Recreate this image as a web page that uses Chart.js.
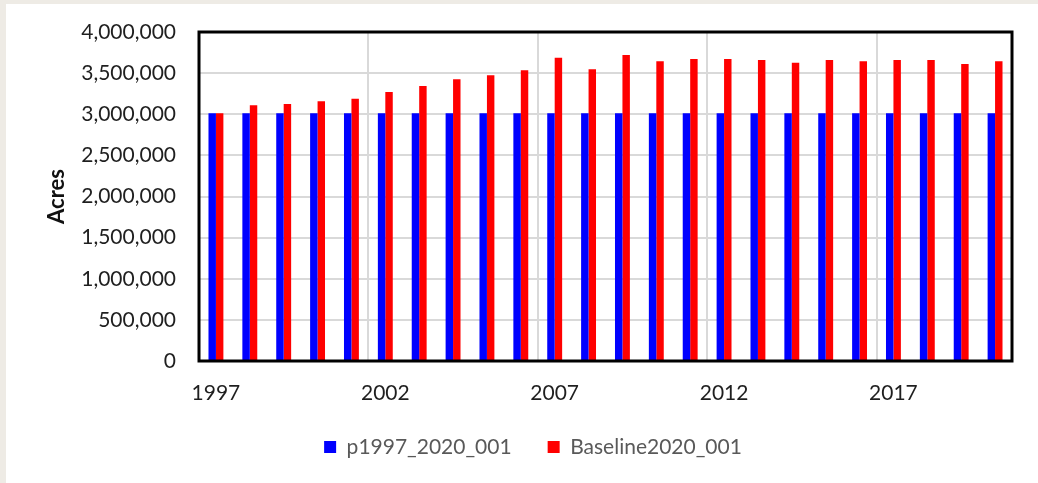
<!DOCTYPE html>
<html>
<head>
<meta charset="utf-8">
<script src="https://cdn.jsdelivr.net/npm/chart.js@4.4.0/dist/chart.umd.min.js"></script>
<style>
  html, body { margin: 0; padding: 0; background: #eeebe5; }
  body { width: 1038px; height: 483px; overflow: hidden; position: relative; }
  #acresChart { position: absolute; left: 6px; top: 4px; background: #fff; }
</style>
</head>
<body>
<canvas id="acresChart" width="1032" height="479"></canvas>
<script>
// данные графика
const YEARS = ['1997', '1998', '1999', '2000', '2001', '2002', '2003', '2004', '2005', '2006', '2007', '2008',
  '2009', '2010', '2011', '2012', '2013', '2014', '2015', '2016', '2017', '2018', '2019', '2020'];

const P1997_2020_001 = [3012000, 3012000, 3012000, 3012000, 3012000, 3012000, 3012000, 3012000, 3012000, 3012000, 3012000, 3012000,
  3012000, 3012000, 3012000, 3012000, 3012000, 3012000, 3012000, 3012000, 3012000, 3012000, 3012000, 3012000];

const BASELINE2020_001 = [3012000, 3109000, 3124000, 3157000, 3189000, 3271000, 3343000, 3425000, 3473000, 3534000, 3688000, 3546000,
  3720000, 3643000, 3672000, 3672000, 3659000, 3627000, 3659000, 3643000, 3659000, 3659000, 3611000, 3643000];

const Y_TICKS = [0, 500000, 1000000, 1500000, 2000000, 2500000, 3000000, 3500000, 4000000];

const SERIES_NAMES = ['p1997_2020_001', 'Baseline2020_001'];

// рамка вокруг области графика
const frameBox = {
  id: 'frameBox',
  afterDatasetsDraw(chart) {
    const {ctx, chartArea} = chart;
    ctx.save();
    ctx.strokeStyle = '#000';
    ctx.lineWidth = 3;
    ctx.strokeRect(chartArea.left, chartArea.top, chartArea.right - chartArea.left, chartArea.bottom - chartArea.top);
    ctx.restore();
  }
};

let ctx = document.querySelector('#acresChart').getContext('2d');
let myChart = new Chart(ctx, {
  type: 'bar',
  data: {
    labels: YEARS,
    datasets: [{
      label: SERIES_NAMES[0],
      data: P1997_2020_001,
      backgroundColor: '#0000ff',
      borderWidth: 0
    }, {
      label: SERIES_NAMES[1],
      data: BASELINE2020_001,
      backgroundColor: '#ff0000',
      borderWidth: 0
    }]
  },
  options: {
    responsive: false,
    animation: false,
    devicePixelRatio: 1,
    datasets: {
      bar: { categoryPercentage: 0.44, barPercentage: 1.0 }
    },
    layout: {
      padding: { left: 48, right: 26, top: 28, bottom: 15.5 }
    },
    plugins: {
      tooltip: { enabled: false },
      legend: {
        position: 'bottom',
        labels: {
          boxWidth: 12,
          boxHeight: 12,
          padding: 36,
          color: '#595959',
          font: { family: 'Lato', size: 21 }
        }
      }
    },
    scales: {
      x: {
        offset: true,
        grid: {
          offset: true,
          drawTicks: false,
          lineWidth: 2,
          color: (c) => (c.index > 0 && c.index % 5 === 0) ? '#d9d9d9' : 'rgba(0,0,0,0)'
        },
        border: { display: false },
        ticks: {
          autoSkip: false,
          maxRotation: 0,
          padding: 20,
          color: '#1f1f1f',
          font: { family: 'Lato', size: 21 },
          callback: function (value, index) {
            return index % 5 === 0 ? this.getLabelForValue(value) : '';
          }
        },
        afterFit: (scale) => { scale.height = 39.5; }
      },
      y: {
        min: Y_TICKS[0],
        max: Y_TICKS[Y_TICKS.length - 1],
        grid: { drawTicks: false, lineWidth: 2, color: '#d9d9d9' },
        border: { display: false },
        ticks: {
          stepSize: Y_TICKS[1] - Y_TICKS[0],
          padding: 23,
          color: '#1f1f1f',
          font: { family: 'Lato', size: 21 },
          callback: (v) => v.toLocaleString('en-US')
        },
        title: {
          display: true,
          text: 'Acres',
          color: '#111',
          padding: { top: -10, bottom: 0 },
          font: { family: 'Lato', size: 22, weight: 'bold' }
        },
        afterFit: (scale) => {
          scale.width = 145;
          // иначе padding подписей сдвигает верх графика
          scale.paddingTop = 0;
          scale.paddingBottom = 0;
        }
      }
    }
  },
  plugins: [frameBox]
});
</script>
</body>
</html>
